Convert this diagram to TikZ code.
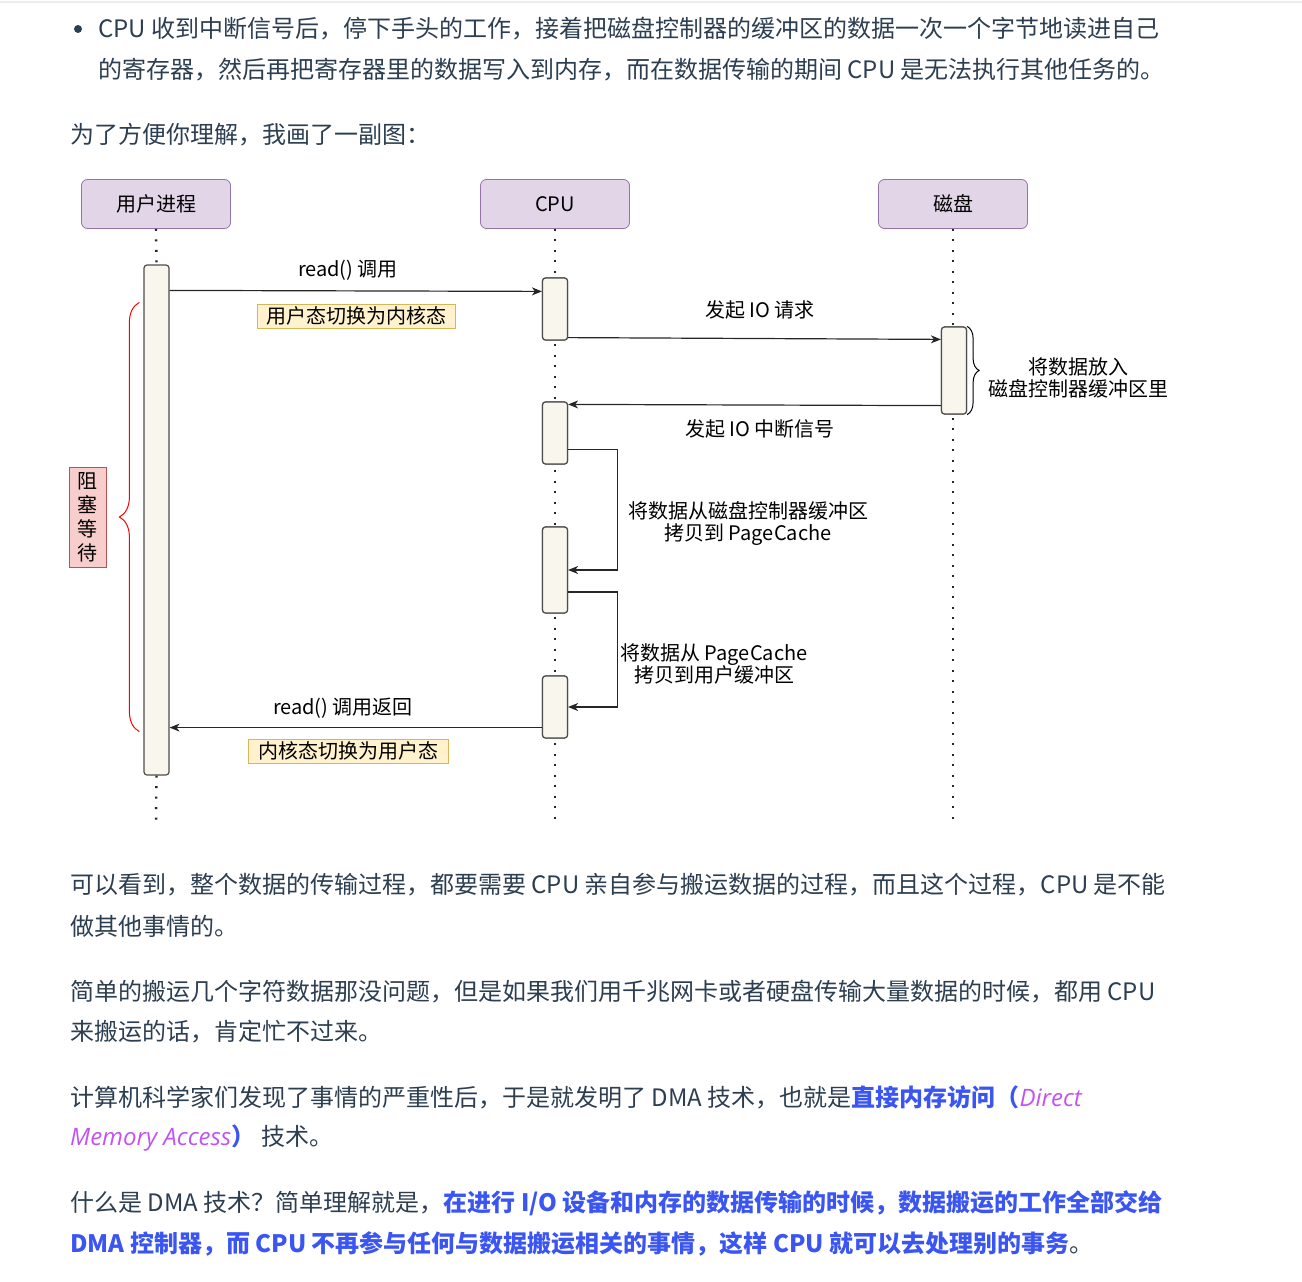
\documentclass[tikz,border=0pt]{standalone}
\usepackage{fontspec}
\setmainfont{Noto Sans CJK SC}
\newfontfamily\latinit{Open Sans}
\usetikzlibrary{arrows.meta,positioning,calc,decorations.pathreplacing}

\definecolor{bodytext}{HTML}{2C3E50}
\definecolor{hlblue}{HTML}{3A55F2}
\definecolor{hlpurple}{HTML}{C352F3}
\definecolor{headfill}{HTML}{E1D5E7}
\definecolor{headline}{HTML}{9673A6}
\definecolor{actfill}{HTML}{F9F7ED}
\definecolor{actline}{HTML}{4D4D4D}
\definecolor{notefill}{HTML}{FFF2CC}
\definecolor{noteline}{HTML}{D6B656}
\definecolor{waitfill}{HTML}{F8CECC}
\definecolor{waitline}{HTML}{B85450}
\definecolor{topline}{HTML}{EAECEF}

\newcommand{\bodyfont}{\fontsize{24pt}{29pt}\selectfont}
\newcommand{\diafont}{\fontsize{20pt}{24pt}\selectfont}

\begin{document}
\begin{tikzpicture}[
        x=1pt, y=-1pt,
        line/.style={anchor=west, inner sep=0pt, text=bodytext, font=\bodyfont},
        head/.style={draw=headline, fill=headfill, rounded corners=6pt, thick, minimum width=149pt, minimum height=49pt, font=\diafont},
        act/.style={draw=actline, fill=actfill, rounded corners=3pt, line width=1.2pt, minimum width=25pt, inner sep=0pt},
        note/.style={draw=noteline, fill=notefill, minimum height=24pt, inner sep=0pt, font=\diafont},
        label/.style={font=\diafont, align=center, inner sep=1pt},
        life/.style={line width=2.4pt, dash pattern=on 2pt off 8.5pt, black!85},
        msg/.style={-{Stealth[length=10pt,width=8pt,inset=3pt]}, line width=1.2pt, black!85},
        brace/.style={decorate, decoration={brace, amplitude=#1}, line width=1pt}
    ]
        \useasboundingbox (0,0) rectangle (1302,1282);
        \draw[topline, line width=2pt] (0,2) -- (1302,2);

        % text above the picture
        \fill[bodytext] (78,29) circle (4pt);
        \node[line] (p1a) at (98,29) {CPU 收到中断信号后，停下手头的工作，接着把磁盘控制器的缓冲区的数据一次一个字节地读进自己};
        \node[line] (p1b) at (98,70) {的寄存器，然后再把寄存器里的数据写入到内存，而在数据传输的期间 CPU 是无法执行其他任务的。};
        \node[line] (p2) at (70,135) {为了方便你理解，我画了一副图：};

        % heads and lifelines
        \node[head] (user) at (156,204) {用户进程};
        \node[head] (cpu) at (555,204) {CPU};
        \node[head] (disk) at (953,204) {磁盘};

        \node[act, minimum height=510pt] (uact) at (156.5,520) {};
        \node[act, minimum height=62pt] (cpu1) at (555,309) {};
        \node[act, minimum height=62pt] (cpu2) at (555,433) {};
        \node[act, minimum height=86pt] (cpu3) at (555,570) {};
        \node[act, minimum height=62pt] (cpu4) at (555,707) {};
        \node[act, minimum height=87pt] (dact) at (954,370.5) {};

        \coordinate (uend) at (156,826);
        \coordinate (cend) at (555,822);
        \coordinate (dend) at (953,822);

        \draw[life] (user.south) -- (uact.north);
        \draw[life] (uact.south) -- (uend);
        \draw[life] (cpu.south) -- (cend);
        \draw[life] (disk.south) -- (dend);
        % redraw activations over the cpu/disk lifelines
        \node[act, minimum height=62pt] at (cpu1) {};
        \node[act, minimum height=62pt] at (cpu2) {};
        \node[act, minimum height=86pt] at (cpu3) {};
        \node[act, minimum height=62pt] at (cpu4) {};
        \node[act, minimum height=87pt] at (dact) {};

        % messages
        \draw[msg] ([yshift=-26pt]uact.north east) -- ([yshift=-14pt]cpu1.north west);
        \node[label] (call) at (348,270) {read() 调用};
        \node[note, minimum width=198pt] (tokern) at (356,316) {用户态切换为内核态};

        \draw[msg] ([yshift=3pt]cpu1.south east) -- ([yshift=-13pt]dact.north west);
        \node[label] (ioreq) at (760,310) {发起 IO 请求};

        \draw[brace=12pt] (dact.north east) -- (dact.south east);
        \node[label] (fill) at (1078,378) {将数据放入\\[-2pt]磁盘控制器缓冲区里};

        \draw[msg] ([yshift=9pt]dact.south west) -- ([yshift=-3pt]cpu2.north east);
        \node[label] (irq) at (760,429) {发起 IO 中断信号};

        \draw[msg] ([yshift=15pt]cpu2.south east) -- ++(49pt,0) |- (cpu3.east);
        \node[label] (copy1) at (748,523) {将数据从磁盘控制器缓冲区\\[-2pt]拷贝到 PageCache};

        \draw[msg] ([yshift=-22pt]cpu3.east) -- ++(49pt,0) |- (cpu4.east);
        \node[label] (copy2) at (714,664) {将数据从 PageCache\\[-2pt]拷贝到用户缓冲区};

        \draw[msg] ([yshift=11pt]cpu4.south west) -- ([yshift=11pt]uact.east |- cpu4.south);
        \node[label] (ret) at (343,708) {read() 调用返回};
        \node[note, minimum width=200pt] (touser) at (348,751) {内核态切换为用户态};

        % blocked while waiting
        \draw[brace=20pt, red] ([xshift=-4pt,yshift=44pt]uact.south west) -- ([xshift=-4pt,yshift=-38pt]uact.north west);
        \node[draw=waitline, fill=waitfill, minimum width=37pt, minimum height=100pt, inner sep=0pt, align=center, font=\diafont] (wait) at (87.5,517) {阻\\[0pt]塞\\[0pt]等\\[0pt]待};

        % text below the picture
        \node[line] (p3a) at (70,885) {可以看到，整个数据的传输过程，都要需要 CPU 亲自参与搬运数据的过程，而且这个过程，CPU 是不能};
        \node[line] (p3b) at (70,926) {做其他事情的。};
        \node[line] (p4a) at (70,992) {简单的搬运几个字符数据那没问题，但是如果我们用千兆网卡或者硬盘传输大量数据的时候，都用 CPU};
        \node[line] (p4b) at (70,1032) {来搬运的话，肯定忙不过来。};
        \node[line] (p5a) at (70,1097) {计算机科学家们发现了事情的严重性后，于是就发明了 DMA 技术，也就是{\color{hlblue}\bfseries 直接内存访问（}{\color{hlpurple}\latinit\itshape Direct}};
        \node[line] (p5b) at (70,1138) {{\color{hlpurple}\latinit\itshape Memory Access}{\color{hlblue}\bfseries ）}\hspace{6pt}技术。};
        \node[line] (p6a) at (70,1203) {什么是 DMA 技术？简单理解就是，{\color{hlblue}\bfseries 在进行 I/O 设备和内存的数据传输的时候，数据搬运的工作全部交给}};
        \node[line] (p6b) at (70,1244) {{\color{hlblue}\bfseries DMA 控制器，而 CPU 不再参与任何与数据搬运相关的事情，这样 CPU 就可以去处理别的事务}。};
\end{tikzpicture}
\end{document}
